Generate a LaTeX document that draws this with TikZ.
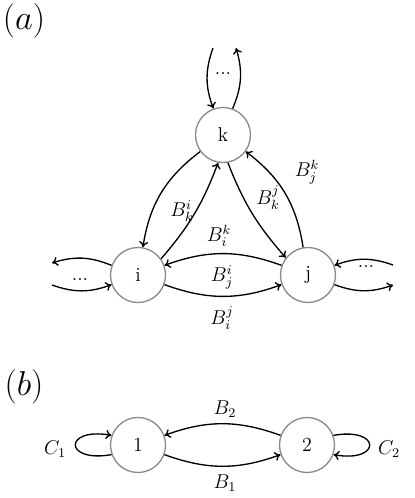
\documentclass[tikz,border=0pt]{standalone}
\usepackage{amsmath}
\usepackage{xcolor}
\usepackage{tikz}
\usetikzlibrary{arrows.meta}
\definecolor{ring}{HTML}{8A8A8A}

\begin{document}
\begin{tikzpicture}[x=0.6pt,y=0.6pt,font=\large,>={To[length=3.5pt,width=5.5pt]},
  site/.style={circle,draw=ring,thick,minimum size=33pt,inner sep=0pt},
  rate/.style={inner sep=1pt},
  flow/.style={->,thick,bend right=20}]
\useasboundingbox (0,0) rectangle (415,498);
% panel (a): three sites
\node[font=\huge] (lbla) at (24,477) {$(a)$};
\node[site] (k) at (223,363) {k};
\node[site] (i) at (138,223) {i};
\node[site] (j) at (308,223) {j};
% loose ends towards the rest of the network
\coordinate (kin) at (213,450);
\coordinate (kout) at (236,450);
\coordinate (iout) at (52,235);
\coordinate (iin) at (52,213);
\coordinate (jin) at (393,233);
\coordinate (jout) at (393,213);
\draw[flow] (kin) to (k.110);
\draw[flow] (k.70) to (kout);
\draw[flow] (i.160) to (iout);
\draw[flow] (iin) to (i.200);
\draw[flow] (jin) to (j.20);
\draw[flow] (j.-20) to (jout);
\node[rate] (kdots) at (223,424) {...};
\node[rate] (idots) at (80,218) {...};
\node[rate] (jdots) at (366,231) {...};
% hops between the sites
\draw[flow,bend right=22] (k.216) to (i.80);
\draw[flow,bend right=10] (i.35) to (k.260);
\draw[flow,bend right=10] (k.280) to (j.142);
\draw[flow,bend right=22] (j.100) to (k.324);
\draw[flow] (j.160) to (i.20);
\draw[flow] (i.-20) to (j.200);
\node[rate] (bki) at (182,287) {$B_k^i$};
\node[rate] (bik) at (219,262) {$B_i^k$};
\node[rate] (bkj) at (268,300) {$B_k^j$};
\node[rate] (bjk) at (307,326) {$B_j^k$};
\node[rate] (bji) at (222,221) {$B_j^i$};
\node[rate] (bij) at (222,180) {$B_i^j$};
% panel (b): two sites
\node[font=\huge] (lblb) at (24,111) {$(b)$};
\node[site] (n1) at (138,53) {1};
\node[site] (n2) at (307,53) {2};
\draw[flow] (n2.160) to (n1.20);
\draw[flow] (n1.-20) to (n2.200);
\draw[->,thick] (n1.200) to[out=190,in=170,looseness=6.5] (n1.160);
\draw[->,thick] (n2.20) to[out=10,in=-10,looseness=6.5] (n2.-20);
\node[rate] (bb2) at (225,89) {$B_2$};
\node[rate] (bb1) at (225,15) {$B_1$};
\node[rate] (cc1) at (55,49) {$C_1$};
\node[rate] (cc2) at (389,49) {$C_2$};
\end{tikzpicture}
\end{document}
